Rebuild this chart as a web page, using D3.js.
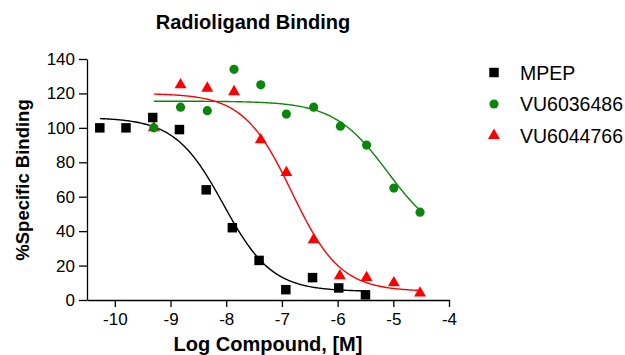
<!DOCTYPE html>
<html>
<head>
<meta charset="utf-8">
<script src="https://cdn.jsdelivr.net/npm/d3@7"></script>
<style>
  body { margin: 0; background: #fff; }
  svg { font-family: "Liberation Sans", Arial, sans-serif; }
</style>
</head>
<body>
<div id="chart"></div>
<script>
// log concentrations (M) and % specific binding
const mpepX = [-10.27, -9.8, -9.32, -8.84, -8.36, -7.89, -7.41, -6.93, -6.45, -5.98, -5.5];
const mpepY = [100, 100, 106, 99, 64, 42, 23, 6, 13, 7, 3];
const vu486X = [-9.3, -8.82, -8.34, -7.86, -7.38, -6.92, -6.43, -5.95, -5.48, -4.99, -4.52];
const vu486Y = [100, 112, 110, 134, 125, 108, 112, 101, 90, 65, 51];
const vu766X = [-9.3, -8.82, -8.34, -7.86, -7.38, -6.92, -6.43, -5.96, -5.48, -4.99, -4.52];
const vu766Y = [100, 125, 123, 121, 93, 74, 35, 14, 13, 10, 4];

// four-parameter fit: top, bottom, logIC50, hill, fitted x range
const mpepFit = [106, 5, -8.05, 1.0, -10.27, -5.5];
const vu486Fit = [115.5, 33, -5.1, 0.9, -9.3, -4.5];
const vu766Fit = [120, 5, -6.82, 1.0, -9.3, -4.5];

const xTicks = [-10, -9, -8, -7, -6, -5, -4];
const yTicks = [0, 20, 40, 60, 80, 100, 120, 140];
const names = ["MPEP", "VU6036486", "VU6044766"];

const width = 625, height = 355;
const svg = d3.select("#chart").append("svg")
    .attr("width", width).attr("height", height);

const x = d3.scaleLinear().domain([-10.5, -4]).range([87, 449]);
const y = d3.scaleLinear().domain([0, 140]).range([300, 59]);

const xAxis = svg.append("g")
    .attr("transform", "translate(0,300)")
    .call(d3.axisBottom(x).tickValues(xTicks).tickFormat(d => String(d))
      .tickSize(7).tickPadding(6).tickSizeOuter(0));
const yAxis = svg.append("g")
    .attr("transform", "translate(87,0)")
    .call(d3.axisLeft(y).tickValues(yTicks).tickFormat(d => String(d))
      .tickSize(8).tickPadding(4).tickSizeOuter(0));

[xAxis, yAxis].forEach(g => {
  g.selectAll("path, line").attr("stroke", "#000").attr("stroke-width", 1.3);
  g.selectAll("text").attr("font-size", 17).attr("fill", "#000")
    .attr("font-family", "Liberation Sans, Arial, sans-serif");
});

function fitLine(p) {
  const [top, bottom, c, h, x0, x1] = p;
  const xs = d3.range(0, 201).map(i => x0 + (x1 - x0) * i / 200);
  return xs.map(v => [v, bottom + (top - bottom) / (1 + Math.pow(10, (v - c) * h))]);
}
const line = d3.line().x(d => x(d[0])).y(d => y(d[1]));

const series = [
  { name: names[0], xs: mpepX, ys: mpepY, fit: mpepFit, color: "#000000", shape: d3.symbolSquare, size: 90 },
  { name: names[1], xs: vu486X, ys: vu486Y, fit: vu486Fit, color: "#0a870a", shape: d3.symbolCircle, size: 66 },
  { name: names[2], xs: vu766X, ys: vu766Y, fit: vu766Fit, color: "#ff0000", shape: d3.symbolTriangle, size: 62 }
];

series.forEach(s => {
  svg.append("path")
    .attr("d", line(fitLine(s.fit)))
    .attr("fill", "none").attr("stroke", s.color).attr("stroke-width", 1.4);
});

// red first, then green, then black on top
[series[2], series[1], series[0]].forEach(s => {
  svg.append("g").selectAll("path")
    .data(s.xs.map((v, i) => [v, s.ys[i]]))
    .join("path")
    .attr("d", d3.symbol().type(s.shape).size(s.size))
    .attr("transform", d => `translate(${x(d[0])},${y(d[1])})`)
    .attr("fill", s.color);
});

// legend
const legY = [72.5, 104, 135.5];
series.forEach((s, i) => {
  svg.append("path")
    .attr("d", d3.symbol().type(s.shape).size(s.size))
    .attr("transform", `translate(494,${legY[i]})`)
    .attr("fill", s.color);
  svg.append("text")
    .attr("x", 520).attr("y", legY[i] + 7)
    .attr("font-size", 19.5).text(s.name);
});

svg.append("text")
  .attr("x", 253).attr("y", 29)
  .attr("text-anchor", "middle").attr("font-size", 20).attr("font-weight", "bold")
  .text("Radioligand Binding");

svg.append("text")
  .attr("x", 268).attr("y", 350.5)
  .attr("text-anchor", "middle").attr("font-size", 20).attr("font-weight", "bold")
  .text("Log Compound, [M]");

svg.append("text")
  .attr("transform", "translate(29,180) rotate(-90)")
  .attr("text-anchor", "middle").attr("font-size", 18.5).attr("font-weight", "bold")
  .text("%Specific Binding");
</script>
</body>
</html>
